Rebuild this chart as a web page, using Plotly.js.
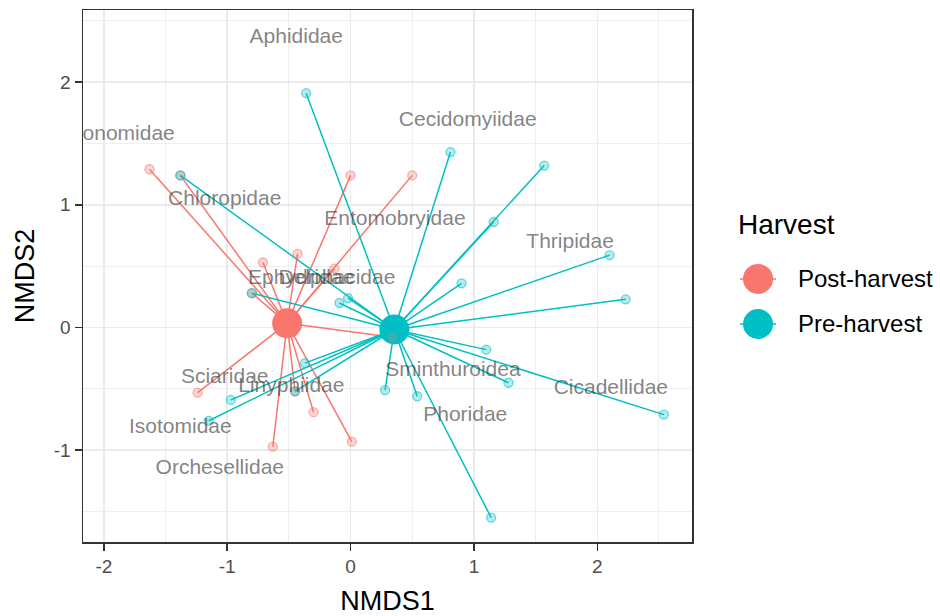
<!DOCTYPE html>
<html>
<head>
<meta charset="utf-8">
<script src="https://cdn.plot.ly/plotly-3.0.1.min.js"></script>
<style>
  html, body { margin: 0; padding: 0; background: #ffffff; }
  #chart { width: 940px; height: 616px; }
</style>
</head>
<body>
<div id="chart"></div>
<script>
// ---- data ----
const groups = ["Post-harvest", "Pre-harvest"];
const groupColors = ["#F8766D", "#00BFC4"];

const centroidX = [-0.514, 0.355];
const centroidY = [0.034, -0.016];

const postX = [-1.63, -1.38, -0.43, -0.71, -0.13, 0.00, 0.50, -0.80, -1.24, -0.30, -0.63, 0.01, -0.45, 0.34];
const postY = [1.29, 1.24, 0.60, 0.53, 0.48, 1.24, 1.24, 0.28, -0.53, -0.69, -0.97, -0.93, -0.52, -0.08];

const preX = [-0.36, -1.38, 0.81, 1.57, 1.16, 2.10, 2.23, 0.90, 1.10, 1.28, 2.54, 1.14, 0.54, 0.28, 0.34, -0.80, -0.09, -0.02, -0.37, -0.45, -0.97, -1.15];
const preY = [1.91, 1.24, 1.43, 1.32, 0.86, 0.59, 0.23, 0.36, -0.18, -0.45, -0.71, -1.55, -0.56, -0.51, -0.08, 0.28, 0.20, 0.24, -0.29, -0.52, -0.59, -0.76];

const speciesNames = ["Aphididae", "Chironomidae", "Chloropidae", "Entomobryidae", "Cecidomyiidae", "Thripidae",
  "Ephydridae", "Delphacidae", "Sciaridae", "Linyphiidae", "Isotomidae", "Orchesellidae",
  "Sminthuroidea", "Phoridae", "Cicadellidae"];
const speciesX = [-0.44, -1.955, -1.02, 0.36, 0.95, 1.78, -0.40, -0.11, -1.02, -0.48, -1.38, -1.06, 0.83, 0.93, 2.11];
const speciesY = [2.36, 1.57, 1.04, 0.88, 1.685, 0.69, 0.40, 0.40, -0.41, -0.48, -0.82, -1.15, -0.35, -0.72, -0.50];

const xTicks = [-2, -1, 0, 1, 2];
const yTicks = [-1, 0, 1, 2];

// ---- build traces ----
function spider(cx, cy, xs, ys) {
  const sx = [], sy = [];
  for (let i = 0; i < xs.length; i++) {
    sx.push(cx, xs[i], null);
    sy.push(cy, ys[i], null);
  }
  return {sx, sy};
}
function rgba(hex, a) {
  const r = parseInt(hex.slice(1, 3), 16), g = parseInt(hex.slice(3, 5), 16), b = parseInt(hex.slice(5, 7), 16);
  return `rgba(${r},${g},${b},${a})`;
}

const siteX = [postX, preX];
const siteY = [postY, preY];
const traces = [];

for (let g = 0; g < 2; g++) {
  const s = spider(centroidX[g], centroidY[g], siteX[g], siteY[g]);
  traces.push({
    type: "scatter", mode: "lines", x: s.sx, y: s.sy,
    line: {color: groupColors[g], width: 1.5},
    hoverinfo: "skip", showlegend: false
  });
}
for (let g = 0; g < 2; g++) {
  traces.push({
    type: "scatter", mode: "markers", x: [centroidX[g]], y: [centroidY[g]],
    marker: {color: groupColors[g], size: 30, line: {width: 0}},
    name: groups[g], showlegend: false
  });
}
for (let g = 0; g < 2; g++) {
  traces.push({
    type: "scatter", mode: "markers", x: siteX[g], y: siteY[g],
    marker: {color: rgba(groupColors[g], 0.3), size: 9, line: {color: rgba(groupColors[g], 0.55), width: 1.3}},
    name: groups[g], showlegend: false
  });
}
traces.push({
  type: "scatter", mode: "text", x: speciesX, y: speciesY, text: speciesNames,
  textposition: "middle center",
  textfont: {family: "Liberation Sans, Arial, sans-serif", size: 21, color: "rgba(60,60,60,0.65)"},
  hoverinfo: "skip", showlegend: false, cliponaxis: true
});

// ---- manual legend (ggplot style key: circle + line) ----
const legendX = 1.1084, legendTextX = 1.1724, legendTitleX = 1.0739;
const legendY = [0.4944, 0.4098];
const shapes = [];
const annotations = [];
for (let g = 0; g < 2; g++) {
  shapes.push({
    type: "line", xref: "paper", yref: "paper", xsizemode: "pixel", ysizemode: "pixel",
    xanchor: legendX, yanchor: legendY[g], x0: -18, x1: 18, y0: 0, y1: 0,
    line: {color: groupColors[g], width: 1.4}
  });
  shapes.push({
    type: "circle", xref: "paper", yref: "paper", xsizemode: "pixel", ysizemode: "pixel",
    xanchor: legendX, yanchor: legendY[g], x0: -15, x1: 15, y0: -15, y1: 15,
    fillcolor: groupColors[g], line: {width: 0}
  });
  annotations.push({
    xref: "paper", yref: "paper", x: legendTextX, y: legendY[g], xanchor: "left", yanchor: "middle",
    text: groups[g], showarrow: false, borderpad: 0,
    font: {family: "Liberation Sans, Arial, sans-serif", size: 24, color: "#000000"}
  });
}
annotations.push({
  xref: "paper", yref: "paper", x: legendTitleX, y: 0.5959, xanchor: "left", yanchor: "middle",
  text: "Harvest", showarrow: false, borderpad: 0,
  font: {family: "Liberation Sans, Arial, sans-serif", size: 28, color: "#000000"}
});

const axisCommon = {
  showgrid: true, gridcolor: "#EBEBEB", gridwidth: 1.5,
  zeroline: false, showline: true, mirror: true, linecolor: "#333333", linewidth: 1.5,
  ticks: "outside", ticklen: 7, tickwidth: 1.5, tickcolor: "#333333",
  tickfont: {family: "Liberation Sans, Arial, sans-serif", size: 19, color: "#4D4D4D"},
  minor: {dtick: 0.5, showgrid: true, gridcolor: "#EBEBEB", gridwidth: 0.8, ticks: ""}
};

const layout = {
  width: 940, height: 616,
  margin: {l: 83, r: 248, t: 10, b: 74},
  paper_bgcolor: "#FFFFFF", plot_bgcolor: "#FFFFFF",
  showlegend: false,
  xaxis: Object.assign({}, axisCommon, {
    range: [-2.169, 2.768], tickmode: "array", tickvals: xTicks, ticktext: xTicks.map(String),
    title: {text: "NMDS1", standoff: 16, font: {family: "Liberation Sans, Arial, sans-serif", size: 27, color: "#000000"}}
  }),
  yaxis: Object.assign({}, axisCommon, {
    range: [-1.748, 2.588], tickmode: "array", tickvals: yTicks, ticktext: yTicks.map(String),
    title: {text: "NMDS2", standoff: 11, font: {family: "Liberation Sans, Arial, sans-serif", size: 27, color: "#000000"}}
  }),
  shapes: shapes,
  annotations: annotations
};

Plotly.newPlot("chart", traces, layout, {displayModeBar: false, staticPlot: true});
</script>
</body>
</html>
